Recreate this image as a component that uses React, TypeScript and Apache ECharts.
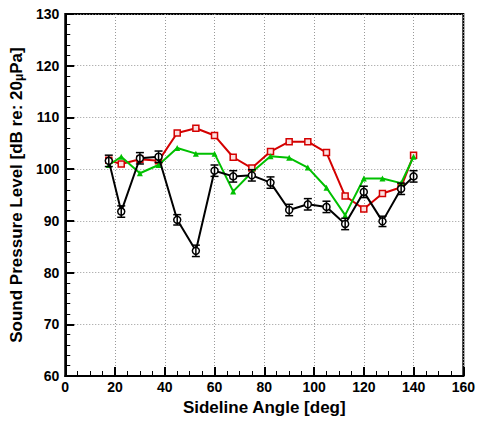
import React, { useEffect, useRef } from "react";
import * as echarts from "echarts";

const angles = [17.5, 22.5, 30, 37.5, 45, 52.5, 60, 67.5, 75, 82.5, 90, 97.5, 105, 112.5, 120, 127.5, 135, 140];
const blackSPL = [101.6, 91.8, 102.1, 102.4, 90.2, 84.2, 99.7, 98.6, 98.8, 97.4, 92.1, 93.2, 92.7, 89.4, 95.6, 89.9, 96.2, 98.6];
const blackErr = [1.1, 1.1, 1.1, 1.1, 1.0, 1.1, 1.1, 1.1, 1.1, 1.1, 1.1, 1.1, 1.1, 1.1, 1.1, 1.0, 1.1, 1.1];
const redSPL = [101.7, 101.0, 101.9, 101.6, 107.0, 107.9, 106.5, 102.3, 100.2, 103.4, 105.3, 105.3, 103.2, 94.8, 92.3, 95.3, 96.5, 102.7];
const greenSPL = [100.8, 102.4, 99.2, 100.8, 104.1, 103.0, 103.0, 95.7, 99.4, 102.5, 102.2, 100.3, 96.4, 91.1, 98.2, 98.2, 97.3, 102.4];

const FONT = "Liberation Sans, Arial, sans-serif";

export default function App() {
  const ref = useRef<HTMLDivElement>(null);
  useEffect(() => {
    if (!ref.current) return;
    const chart = echarts.init(ref.current, null, { renderer: "svg" });
    const pairs = (ys: number[]) => angles.map((x, i) => [x, ys[i]]);
    const errData = angles.map((x, i) => [x, blackSPL[i] - blackErr[i], blackSPL[i] + blackErr[i]]);
    const nameStyle = { fontFamily: FONT, fontWeight: "bold", fontSize: 17, color: "#000" };
    const labelStyle = { fontFamily: FONT, fontWeight: "bold", fontSize: 14, color: "#000" };
    chart.setOption({
      animation: false,
      backgroundColor: "#fff",
      grid: { left: 61, right: 14, top: 14, bottom: 39, show: true, borderColor: "#000", borderWidth: 2, backgroundColor: "transparent" },
      xAxis: {
        type: "value", min: 0, max: 160, interval: 20,
        name: "Sideline Angle [deg]", nameLocation: "middle", nameGap: 23,
        nameTextStyle: nameStyle,
        axisLine: { show: true, lineStyle: { color: "#000", width: 2 } },
        axisTick: { show: true, inside: true, length: 9, lineStyle: { color: "#000", width: 2 } },
        minorTick: { show: true, splitNumber: 4, length: 5, lineStyle: { color: "#000", width: 1 } },
        axisLabel: { ...labelStyle, margin: 4 },
        splitLine: { show: true, lineStyle: { color: "#999", type: [1, 2], width: 1 } },
      },
      yAxis: {
        type: "value", min: 60, max: 130, interval: 10,
        name: "Sound Pressure Level [dB re: 20{mu|μ}Pa]", nameLocation: "middle", nameGap: 37,
        nameTextStyle: { ...nameStyle, rich: { mu: { fontFamily: FONT, fontWeight: "bold", fontSize: 12, color: "#000", verticalAlign: "bottom", padding: [4, 0, 0, 0] } } },
        axisLine: { show: true, lineStyle: { color: "#000", width: 2 } },
        axisTick: { show: true, inside: true, length: 9, lineStyle: { color: "#000", width: 2 } },
        minorTick: { show: true, splitNumber: 5, length: 5, lineStyle: { color: "#000", width: 1 } },
        axisLabel: { ...labelStyle, margin: 6 },
        splitLine: { show: true, lineStyle: { color: "#999", type: [1, 2], width: 1 } },
      },
      series: [
        {
          type: "line", data: pairs(redSPL), color: "#d40000",
          lineStyle: { width: 2, color: "#d40000" },
          symbol: "rect", symbolSize: 6, itemStyle: { color: "#fbe0e0", borderColor: "#d40000", borderWidth: 1.5 }, z: 3,
        },
        {
          type: "line", data: pairs(greenSPL), color: "#00c000",
          lineStyle: { width: 2, color: "#00c000" },
          symbol: "triangle", symbolSize: 6, itemStyle: { color: "#00c000" }, z: 4,
        },
        {
          type: "line", data: pairs(blackSPL), color: "#000",
          lineStyle: { width: 2, color: "#000" },
          symbol: "circle", symbolSize: 7, itemStyle: { color: "#fff", borderColor: "#000", borderWidth: 1.5 }, z: 5,
        },
        {
          type: "custom", data: errData, z: 6,
          renderItem: (params: any, api: any) => {
            const x = api.value(0);
            const lo = api.coord([x, api.value(1)]);
            const hi = api.coord([x, api.value(2)]);
            const w = 4;
            const style = { stroke: "#000", lineWidth: 1.5 };
            return {
              type: "group",
              children: [
                { type: "line", shape: { x1: lo[0], y1: lo[1], x2: hi[0], y2: hi[1] }, style },
                { type: "line", shape: { x1: lo[0] - w, y1: lo[1], x2: lo[0] + w, y2: lo[1] }, style },
                { type: "line", shape: { x1: hi[0] - w, y1: hi[1], x2: hi[0] + w, y2: hi[1] }, style },
              ],
            };
          },
        },
      ],
    });
    return () => chart.dispose();
  }, []);
  return <div ref={ref} style={{ width: 478, height: 421, position: "absolute", left: 0, top: 0 }} />;
}
